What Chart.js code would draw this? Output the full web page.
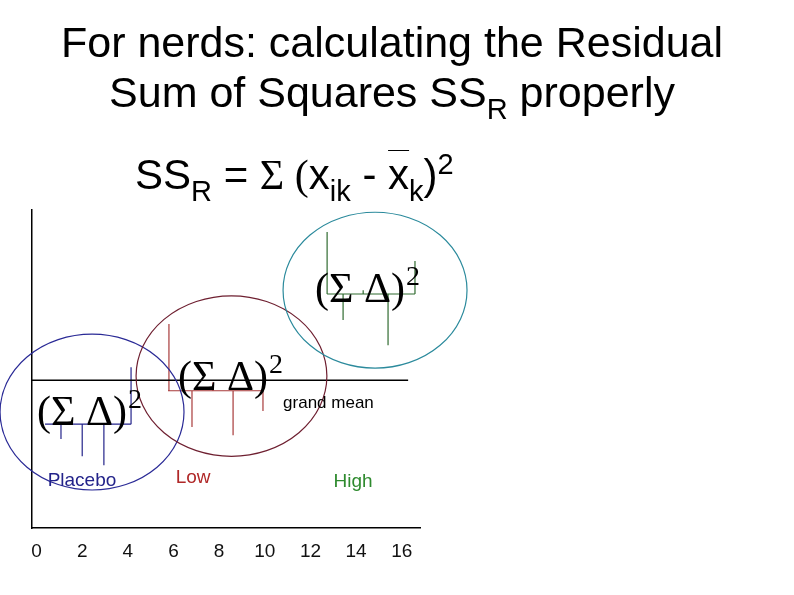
<!DOCTYPE html>
<html>
<head>
<meta charset="utf-8">
<script src="https://cdn.jsdelivr.net/npm/chart.js@4/dist/chart.umd.min.js"></script>
<style>
    body { margin: 0; background: #fff; }
    #wrap { position: relative; width: 794px; height: 595px; overflow: hidden; }
    #chart { position: absolute; left: 0; top: 0; }
    .txt { position: absolute; font-family: "Liberation Sans", Arial, sans-serif; color: #000; white-space: nowrap; }
    #title { left: 0; width: 784px; top: 17px; font-size: 43px; line-height: 50px; text-align: center; }
    #formula { left: 135px; top: 150px; font-size: 42px; line-height: 50px; }
    .serif { font-family: "Liberation Serif", "Times New Roman", serif; }
    .sub { position: relative; top: 12px; font-size: 29px; }
    .sup { position: relative; top: -15px; font-size: 29px; }
    .bar { text-decoration: overline; text-decoration-thickness: 1px; }
</style>
</head>
<body>
<div id="wrap">
    <canvas id="chart" width="794" height="595"></canvas>
    <div class="txt" id="title">For nerds: calculating the Residual<br>Sum of Squares SS<span class="sub">R</span> properly</div>
    <div class="txt" id="formula">SS<span class="sub">R</span> = <span class="serif">&Sigma; (</span>x<span class="sub">ik</span> - <span class="bar">x</span><span class="sub">k</span>)<span class="sup">2</span></div>
</div>
<script>
// x axis ticks
const xTicks = [0, 2, 4, 6, 8, 10, 12, 14, 16];

// observations per group (x = position, y = response)
const placeboX = [1.07, 2.0, 2.95, 4.14];
const placeboY = [2.80, 2.26, 1.98, 5.06];
const lowX = [5.80, 6.81, 7.73, 8.61, 9.92];
const lowY = [6.42, 3.18, 4.59, 2.92, 3.68];
const highX = [12.73, 13.43, 14.31, 15.40, 16.58];
const highY = [9.31, 6.54, 7.48, 5.75, 8.40];

// group means and the x range each mean line covers
const groupMeans = [3.27, 4.32, 7.36];
const meanFrom = [0.37, 5.76, 12.73];
const meanTo = [4.14, 9.92, 16.58];
const grandMean = 4.65;

const colors = {
    placebo: '#23238a',
    low: '#a83a3a',
    high: '#2f6b2f',
    placeboRing: '#2a2a96',
    lowRing: '#6e1f30',
    highRing: '#2b8a9c'
};

// rings round each group: centre and radii in axis units
const rings = [
    { cx: 2.43, cy: 3.65, rx: 4.03, ry: 2.45, color: colors.placeboRing },
    { cx: 8.54, cy: 4.78, rx: 4.18, ry: 2.52, color: colors.lowRing },
    { cx: 14.83, cy: 7.48, rx: 4.03, ry: 2.45, color: colors.highRing }
];

// text placed in axis units
const notes = [
    { text: 'Placebo', x: 1.99, y: 1.48, font: '19px "Liberation Sans", Arial', color: colors.placebo, align: 'center' },
    { text: 'Low', x: 6.86, y: 1.57, font: '19px "Liberation Sans", Arial', color: '#b02828', align: 'center' },
    { text: 'High', x: 13.87, y: 1.45, font: '19px "Liberation Sans", Arial', color: '#2e8a2e', align: 'center' },
    { text: 'grand mean', x: 10.80, y: 3.93, font: '17px "Liberation Sans", Arial', color: '#000', align: 'left' }
];
const sigmaNotes = [
    { x: 0.02, y: 3.24 },
    { x: 6.20, y: 4.34 },
    { x: 12.20, y: 7.11 }
];

let residualPoints = (xs, ys, k) => {
    let pts = [{ x: meanFrom[k], y: groupMeans[k] }, { x: meanTo[k], y: groupMeans[k] }, { x: meanTo[k], y: null }];
    xs.forEach((x, i) => {
        pts.push({ x: x, y: groupMeans[k] }, { x: x, y: ys[i] }, { x: x, y: null });
    });
    return pts;
};

let lineSet = (data, color, width) => ({
    data: data,
    showLine: true,
    spanGaps: false,
    borderColor: color,
    borderWidth: width,
    pointRadius: 0,
    pointHoverRadius: 0
});

const decorations = {
    id: 'decorations',
    afterDatasetsDraw: (chart) => {
        const ctx = chart.ctx;
        const xs = chart.scales.x;
        const ys = chart.scales.y;
        ctx.save();
        rings.forEach(r => {
            let px = xs.getPixelForValue(r.cx);
            let py = ys.getPixelForValue(r.cy);
            let rx = xs.getPixelForValue(r.cx + r.rx) - px;
            let ry = py - ys.getPixelForValue(r.cy + r.ry);
            ctx.beginPath();
            ctx.ellipse(px, py, rx, ry, 0, 0, Math.PI * 2);
            ctx.strokeStyle = r.color;
            ctx.lineWidth = 1.2;
            ctx.stroke();
        });
        notes.forEach(n => {
            ctx.font = n.font;
            ctx.fillStyle = n.color;
            ctx.textAlign = n.align;
            ctx.textBaseline = 'middle';
            ctx.fillText(n.text, xs.getPixelForValue(n.x), ys.getPixelForValue(n.y));
        });
        sigmaNotes.forEach(s => {
            let px = xs.getPixelForValue(s.x);
            let py = ys.getPixelForValue(s.y);
            ctx.fillStyle = '#000';
            ctx.textAlign = 'left';
            ctx.textBaseline = 'alphabetic';
            ctx.font = '42px "Liberation Serif", "Times New Roman", serif';
            let main = '(\u03A3 \u0394)';
            ctx.fillText(main, px, py);
            let w = ctx.measureText(main).width;
            ctx.font = '28px "Liberation Serif", "Times New Roman", serif';
            ctx.fillText('2', px + w + 1, py - 17);
        });
        ctx.restore();
    }
};

let drawChart = () => {
    const ctx = document.getElementById('chart').getContext('2d');
    new Chart(ctx, {
        type: 'scatter',
        data: {
            datasets: [
                lineSet([{ x: -0.2, y: grandMean }, { x: 16.28, y: grandMean }], '#000', 1.3),
                lineSet(residualPoints(placeboX, placeboY, 0), colors.placebo, 1.2),
                lineSet(residualPoints(lowX, lowY, 1), colors.low, 1.2),
                lineSet(residualPoints(highX, highY, 2), colors.high, 1.2)
            ]
        },
        options: {
            responsive: false,
            animation: false,
            events: [],
            layout: { padding: { left: 32, right: 374, top: 210, bottom: 20 } },
            plugins: { legend: { display: false }, tooltip: { enabled: false } },
            scales: {
                x: {
                    type: 'linear',
                    min: -0.2,
                    max: 16.8,
                    afterBuildTicks: (scale) => { scale.ticks = xTicks.map(v => ({ value: v })); },
                    grid: { display: false, drawTicks: false },
                    border: { display: true, color: '#000', width: 1.5 },
                    ticks: {
                        padding: 12,
                        color: '#111',
                        font: { family: '"Liberation Sans", Arial', size: 19 },
                        maxRotation: 0,
                        autoSkip: false
                    }
                },
                y: {
                    type: 'linear',
                    min: 0,
                    max: 10,
                    grid: { display: false, drawTicks: false },
                    border: { display: true, color: '#000', width: 1.5 },
                    ticks: { display: false }
                }
            }
        },
        plugins: [decorations]
    });
};

drawChart();
</script>
</body>
</html>
